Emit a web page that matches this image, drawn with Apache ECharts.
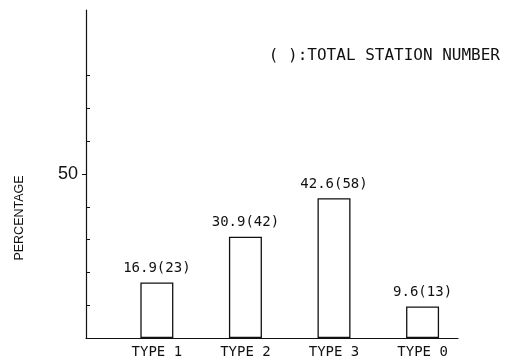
<!DOCTYPE html>
<html>
<head>
<meta charset="utf-8">
<script src="https://cdn.jsdelivr.net/npm/echarts@6/dist/echarts.min.js"></script>
<style>
  html, body { margin: 0; padding: 0; background: #fff; }
  #chart { width: 510px; height: 362px; }
</style>
</head>
<body>
<div id="chart"></div>
<script>
// Station types, share of stations (%) and station counts
const categories = ['TYPE 1', 'TYPE 2', 'TYPE 3', 'TYPE 0'];
const percentages = [16.9, 30.9, 42.6, 9.6];
const stationCounts = [23, 42, 58, 13];
const minorTicks = [10, 20, 30, 40, 60, 70, 80];
const labeledTicks = [50];

const mono = '"DejaVu Sans Mono", monospace';
const sans = '"Liberation Sans", Arial, sans-serif';
const ink = '#111';

// Bars sit at positions 1..n along a value axis
const positions = categories.map((_, i) => i + 1);
const barData = percentages.map((v, i) => [positions[i], v]);

const chart = echarts.init(document.getElementById('chart'), null, { renderer: 'canvas' });
chart.setOption({
  animation: false,
  backgroundColor: '#fff',
  grid: { left: 86, right: 52, top: 10, bottom: 24 },
  xAxis: {
    type: 'value',
    min: 0.2,
    max: 4.4,
    splitLine: { show: false },
    axisLine: { show: true, lineStyle: { color: ink, width: 1.2 } },
    axisTick: { show: false },
    axisLabel: {
      customValues: positions,
      formatter: v => categories[Math.round(v) - 1] || '',
      color: ink,
      fontFamily: mono,
      fontSize: 14,
      margin: 7
    }
  },
  yAxis: [
    {
      type: 'value',
      min: 0,
      max: 100,
      splitLine: { show: false },
      axisLine: { show: true, lineStyle: { color: ink, width: 1.2 } },
      axisTick: { show: true, inside: true, length: 4, customValues: minorTicks, lineStyle: { color: ink } },
      axisLabel: { show: false }
    },
    {
      type: 'value',
      min: 0,
      max: 100,
      position: 'left',
      splitLine: { show: false },
      axisLine: { show: false },
      axisTick: { show: true, inside: false, length: 4, customValues: labeledTicks, lineStyle: { color: ink } },
      axisLabel: {
        customValues: labeledTicks,
        color: ink,
        fontFamily: sans,
        fontSize: 18,
        margin: 8
      }
    }
  ],
  series: [{
    type: 'bar',
    data: barData,
    barWidth: 33,
    itemStyle: { color: '#fff', borderColor: ink, borderWidth: 1.3 },
    label: {
      show: true,
      position: 'top',
      distance: 7,
      color: ink,
      fontFamily: mono,
      fontSize: 14,
      formatter: p => percentages[p.dataIndex].toFixed(1) + '(' + stationCounts[p.dataIndex] + ')'
    }
  }],
  graphic: [
    {
      // vertical axis title
      type: 'text',
      x: 20,
      y: 218,
      rotation: Math.PI / 2,
      style: {
        text: 'PERCENTAGE',
        fill: ink,
        font: '12.5px ' + sans,
        align: 'center',
        verticalAlign: 'middle'
      }
    },
    {
      type: 'text',
      right: 10,
      top: 48,
      style: {
        text: '( ):TOTAL STATION NUMBER',
        fill: ink,
        font: '16px ' + mono
      }
    }
  ]
});
</script>
</body>
</html>
